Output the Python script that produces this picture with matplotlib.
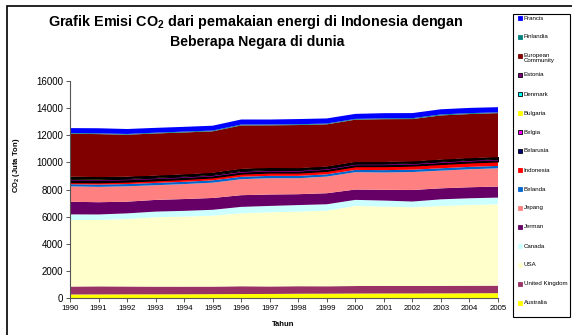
import matplotlib
matplotlib.use('Agg')
import matplotlib.pyplot as plt
import numpy as np
from matplotlib.patches import Rectangle

plt.rcParams.update({'font.family': ['Liberation Sans', 'DejaVu Sans'],
                     'mathtext.default': 'regular'})

years = list(range(1990, 2006))

# stacked from bottom to top (Mt CO2)
australia = [280, 285, 290, 292, 297, 305, 312, 320, 335, 340, 350, 355, 358, 362, 370, 378]
uk = [585, 595, 580, 568, 562, 557, 575, 552, 555, 545, 552, 562, 546, 555, 555, 552]
usa = [4890, 4880, 4960, 5095, 5145, 5215, 5365, 5450, 5485, 5560, 5890, 5825, 5790, 5875, 5940, 5985]
canada = [415, 405, 415, 420, 425, 430, 470, 470, 480, 470, 445, 445, 420, 485, 490, 490]
jerman = [930, 900, 860, 860, 870, 870, 860, 840, 800, 810, 760, 790, 850, 810, 810, 810]
jepang = [1130, 1130, 1130, 1080, 1100, 1125, 1175, 1200, 1175, 1225, 1275, 1275, 1320, 1300, 1320, 1345]
belanda = [160, 165, 165, 168, 168, 170, 178, 170, 172, 165, 168, 172, 172, 175, 178, 175]
indonesia = [160, 175, 190, 200, 210, 225, 240, 255, 250, 265, 280, 300, 310, 320, 330, 340]
belarusia = [100, 95, 85, 75, 65, 60, 60, 60, 58, 57, 56, 55, 55, 56, 58, 58]
belgia = [118, 121, 120, 118, 122, 124, 128, 123, 127, 122, 124, 123, 123, 127, 125, 122]
bulgaria = [82, 65, 60, 60, 57, 60, 58, 56, 51, 46, 46, 49, 47, 50, 50, 50]
denmark = [53, 62, 57, 59, 63, 60, 73, 64, 60, 57, 53, 55, 54, 60, 54, 50]
estonia = [37, 35, 25, 20, 20, 17, 18, 18, 17, 15, 15, 15, 15, 17, 17, 17]
european_community = [3160, 3160, 3090, 3105, 3090, 3060, 3200, 3140, 3175, 3115, 3120, 3150, 3120, 3255, 3250, 3245]
finlandia = [55, 56, 56, 58, 63, 58, 65, 63, 60, 59, 56, 62, 64, 72, 68, 56]
prancis = [360, 375, 365, 355, 350, 355, 370, 365, 380, 375, 370, 380, 375, 380, 385, 380]

series = [
    ('Australia', australia, '#FFFF00', False),
    ('United Kingdom', uk, '#993366', False),
    ('USA', usa, '#FFFFCC', False),
    ('Canada', canada, '#CCFFFF', False),
    ('Jerman', jerman, '#660066', False),
    ('Jepang', jepang, '#FF8080', False),
    ('Belanda', belanda, '#0066CC', False),
    ('Indonesia', indonesia, '#FF0000', False),
    ('Belarusia', belarusia, '#000080', True),
    ('Belgia', belgia, '#FF00FF', True),
    ('Bulgaria', bulgaria, '#FFFF00', False),
    ('Denmark', denmark, '#00FFFF', True),
    ('Estonia', estonia, '#800080', True),
    ('European\nCommunity', european_community, '#800000', False),
    ('Finlandia', finlandia, '#008080', False),
    ('Prancis', prancis, '#0000FF', False),
]

W, H = 572, 335
fig = plt.figure(figsize=(W / 100, H / 100), dpi=100)

# outer frame of the chart object
fig.patches.append(Rectangle((7 / W, -0.1), 1.2, 1 - 6 / H + 0.1, transform=fig.transFigure,
                             fill=False, edgecolor='black', linewidth=1.2))

ax = fig.add_axes([70 / W, 1 - 298.3 / H, 428 / W, 217.6 / H])
polys = ax.stackplot(years, *[s[1] for s in series], colors=[s[2] for s in series],
                     linewidth=0)
for p, s in zip(polys, series):
    if s[3]:
        p.set_edgecolor('black')
        p.set_linewidth(0.9)

ax.set_xlim(1990, 2005)
ax.set_ylim(0, 16000)
ax.set_xticks(years)
ax.set_xticklabels([str(y) for y in years], fontsize=5.7)
ax.set_yticks(range(0, 16001, 2000))
ax.set_yticklabels([str(v) for v in range(0, 16001, 2000)], fontsize=7)
for sp in ['top', 'right']:
    ax.spines[sp].set_visible(False)
for sp in ['left', 'bottom']:
    ax.spines[sp].set_color('#555555')
    ax.spines[sp].set_linewidth(0.8)
ax.tick_params(direction='out', length=3, width=0.7, color='#555555', pad=2)

fig.text(256 / W, 1 - 22 / H, 'Grafik Emisi CO$_2$ dari pemakaian energi di Indonesia dengan',
         ha='center', va='center', fontsize=10.4, fontweight='bold')
fig.text(257 / W, 1 - 42 / H, 'Beberapa Negara di dunia',
         ha='center', va='center', fontsize=10.2, fontweight='bold')
fig.text(16 / W, 1 - 165 / H, 'CO$_2$ (Juta Ton)', rotation=90, ha='center', va='center',
         fontsize=5.5, fontweight='bold')
fig.text(283 / W, 1 - 325 / H, 'Tahun', ha='center', va='center', fontsize=5.5,
         fontweight='bold')

# legend box drawn by hand
fig.patches.append(Rectangle((513 / W, 1 - 317 / H), 57 / W, 303 / H, transform=fig.transFigure,
                             facecolor='white', edgecolor='black', linewidth=0.8))
for i, s in enumerate(reversed(series)):
    yc = 18 + 19 * i
    edge = 'black' if s[3] else s[2]
    fig.patches.append(Rectangle((518 / W, 1 - (yc + 2.2) / H), 4.4 / W, 4.4 / H,
                                 transform=fig.transFigure, facecolor=s[2],
                                 edgecolor=edge, linewidth=0.6))
    if '\n' in s[0]:
        fig.text(523.5 / W, 1 - (yc - 3.5) / H, s[0], ha='left', va='top', fontsize=4.4,
                 linespacing=1.1)
    else:
        fig.text(523.5 / W, 1 - yc / H, s[0], ha='left', va='center', fontsize=4.4)

fig.savefig('out.png', dpi=100)
